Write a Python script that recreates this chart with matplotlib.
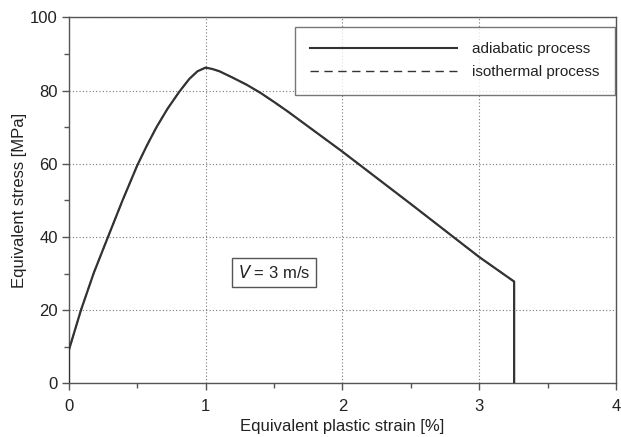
import matplotlib
matplotlib.use("Agg")
import matplotlib.pyplot as plt
from matplotlib.ticker import MultipleLocator

plt.rcParams['font.family'] = ['Liberation Sans', 'DejaVu Sans']

# Equivalent plastic strain [%] and equivalent stress [MPa], V = 3 m/s
strain = [0.0, 0.0, 0.088, 0.182, 0.292, 0.392, 0.5, 0.57, 0.64, 0.72,
          0.805, 0.88, 0.94, 1.0, 1.05, 1.1, 1.2, 1.3, 1.4, 1.5, 1.6, 1.8,
          2.0, 2.5, 3.0, 3.255, 3.255]
stress_adiabatic = [0.0, 9.1, 20.0, 30.2, 40.6, 50.0, 59.6, 65.0, 70.0, 75.0,
                    79.6, 83.2, 85.3, 86.3, 85.9, 85.3, 83.5, 81.6, 79.4, 76.9,
                    74.3, 68.8, 63.3, 49.0, 34.5, 27.8, 0.0]
stress_isothermal = [0.0, 9.1, 20.0, 30.2, 40.6, 50.0, 59.6, 65.0, 70.0, 75.0,
                     79.6, 83.2, 85.3, 86.3, 85.9, 85.3, 83.5, 81.6, 79.4, 76.9,
                     74.3, 68.8, 63.3, 49.0, 34.5, 27.8, 0.0]

series_labels = ["adiabatic process", "isothermal process"]
x_ticks = [0, 1, 2, 3, 4]
y_ticks = [0, 20, 40, 60, 80, 100]

ink = "#333333"
axis_col = "#555555"
text_col = "#222222"

fig = plt.figure(figsize=(6.21, 4.37), dpi=100)
ax = fig.add_axes([0.111, 0.123, 0.881, 0.837])

ax.plot(strain, stress_isothermal, color=ink, lw=1.0, ls=(0, (6, 4)),
        label=series_labels[1], zorder=3)
ax.plot(strain, stress_adiabatic, color=ink, lw=1.6, label=series_labels[0],
        zorder=4)

ax.set_xlim(0, 4)
ax.set_ylim(0, 100)
ax.set_xticks(x_ticks)
ax.set_yticks(y_ticks)
ax.xaxis.set_minor_locator(MultipleLocator(0.5))
ax.yaxis.set_minor_locator(MultipleLocator(10))
ax.tick_params(which='major', direction='out', length=5, width=1,
               color=axis_col, labelsize=12, labelcolor=text_col)
ax.tick_params(axis='x', which='major', pad=6)
ax.tick_params(axis='y', which='major', pad=3)
ax.tick_params(which='minor', direction='out', length=3.5, width=1,
               color=axis_col)

for s in ax.spines.values():
    s.set_color(axis_col)
    s.set_linewidth(1.0)

ax.grid(True, which='major', color="#777777", ls=(0, (1, 2)), lw=0.8)
ax.set_axisbelow(True)

ax.set_xlabel("Equivalent plastic strain [%]", fontsize=12, color=text_col,
              labelpad=4)
ax.set_ylabel("Equivalent stress [MPa]", fontsize=12, color=text_col,
              labelpad=2.5)

handles, labels = ax.get_legend_handles_labels()
leg = ax.legend(handles[::-1], labels[::-1], loc='upper right',
                bbox_to_anchor=(0.998, 0.974), fontsize=11, frameon=True,
                fancybox=False, edgecolor=axis_col, handlelength=9.6,
                handletextpad=1.0, borderpad=1.0, labelspacing=0.6,
                borderaxespad=0.0)
leg.get_frame().set_linewidth(1.0)
for h in leg.get_lines():
    h.set_color(ink)
leg.get_lines()[0].set_linewidth(1.5)
leg.get_lines()[1].set_linewidth(1.0)
for t in leg.get_texts():
    t.set_color(text_col)

ax.text(1.5, 30.3, r"$\it{V}$ = 3 m/s", fontsize=12, color=text_col,
        ha='center', va='center',
        bbox=dict(boxstyle='square,pad=0.35', fc='white', ec=axis_col, lw=1.0))

fig.savefig("out.png", dpi=100)
